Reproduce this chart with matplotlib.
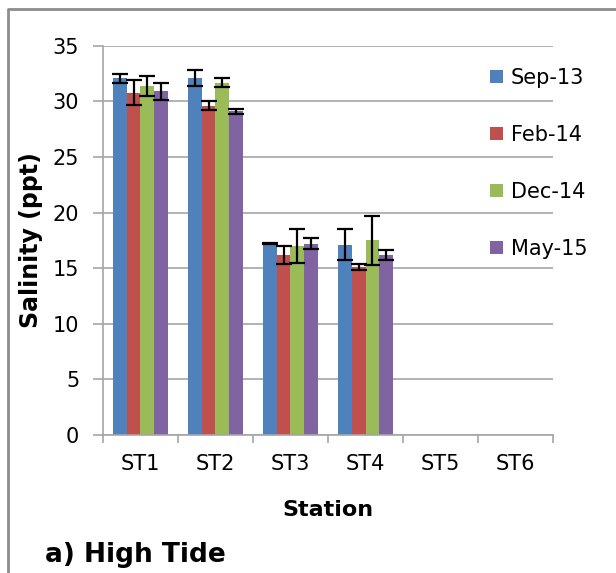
import matplotlib.pyplot as plt
import numpy as np

stations = ['ST1', 'ST2', 'ST3', 'ST4', 'ST5', 'ST6']
sep13 = [32.1, 32.1, 17.2, 17.1, 0, 0]
feb14 = [30.8, 29.6, 16.2, 15.1, 0, 0]
dec14 = [31.4, 31.7, 17.0, 17.5, 0, 0]
may15 = [30.9, 29.1, 17.2, 16.2, 0, 0]
sep13_err = [0.4, 0.7, 0.05, 1.4, 0, 0]
feb14_err = [1.1, 0.4, 0.8, 0.25, 0, 0]
dec14_err = [0.9, 0.4, 1.5, 2.2, 0, 0]
may15_err = [0.8, 0.2, 0.5, 0.45, 0, 0]

series = [('Sep-13', sep13, sep13_err, '#4F81BD'),
          ('Feb-14', feb14, feb14_err, '#C0504D'),
          ('Dec-14', dec14, dec14_err, '#9BBB59'),
          ('May-15', may15, may15_err, '#8064A2')]

fig = plt.figure(figsize=(6.16, 5.73), dpi=100)
ax = fig.add_axes([0.167, 0.241, 0.731, 0.679])

x = np.arange(len(stations))
w = 0.183
for i, (name, vals, errs, col) in enumerate(series):
    pos = x + (i - 1.5) * w
    ax.bar(pos, vals, w, color=col, label=name, zorder=2)
    # only stations with data get error bars
    has = [v > 0 for v in vals]
    ax.errorbar(pos[has], np.array(vals)[has], yerr=np.array(errs)[has],
                fmt='none', ecolor='black', elinewidth=1.6, capsize=6,
                capthick=1.6, zorder=3)

ax.set_xlim(-0.5, 5.5)
ax.set_ylim(0, 35)
ax.set_yticks(range(0, 36, 5))
ax.yaxis.grid(True, color='#A6A6A6', linewidth=1.2, zorder=0)
ax.set_axisbelow(True)

ax.set_xticks(x)
ax.set_xticklabels(stations, fontsize=15)
ax.set_xticks(np.arange(-0.5, 6, 1), minor=True)
ax.tick_params(axis='x', which='major', length=0, pad=14)
ax.tick_params(axis='x', which='minor', length=6, color='#A6A6A6', width=1.2)
ax.tick_params(axis='y', length=7, color='#A6A6A6', width=1.2, labelsize=15, pad=10)

for s in ['top', 'right']:
    ax.spines[s].set_visible(False)
for s in ['left', 'bottom']:
    ax.spines[s].set_color('#A6A6A6')
    ax.spines[s].set_linewidth(1.2)

ax.set_xlabel('Station', fontsize=16, fontweight='bold')
ax.set_ylabel('Salinity (ppt)', fontsize=17, fontweight='bold')
ax.xaxis.set_label_coords(0.5, -0.167)
ax.yaxis.set_label_coords(-0.133, 0.5)

leg = ax.legend(loc='upper left', bbox_to_anchor=(0.86, 0.944), frameon=False,
                fontsize=15, handlelength=0.6, handleheight=0.6,
                handletextpad=0.4, labelspacing=1.78, borderpad=0,
                borderaxespad=0)

fig.text(0.073, 0.02, 'a) High Tide', fontsize=19, fontweight='bold')
# chart area border (left and top edges)
fig.add_artist(plt.Line2D([0.013, 0.013, 1.0], [0, 0.984, 0.984],
                          color='#8C8C8C', linewidth=2))

fig.savefig('out.png', dpi=100)
